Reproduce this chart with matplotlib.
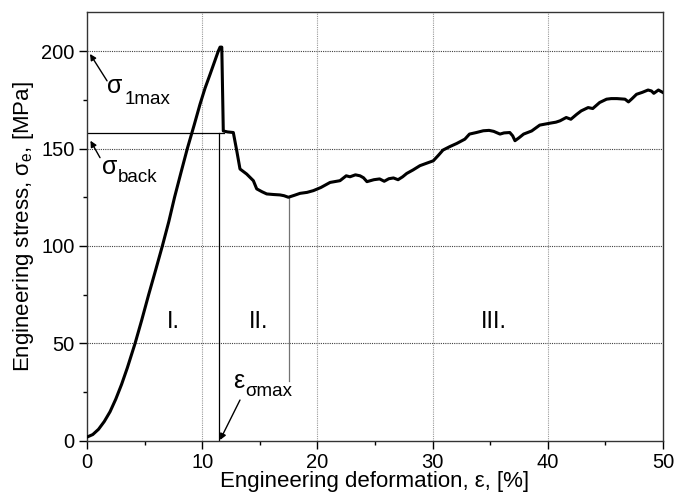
import matplotlib
matplotlib.use("Agg")
import matplotlib.pyplot as plt
from matplotlib.ticker import MultipleLocator

plt.rcParams['font.family'] = ['Liberation Sans', 'DejaVu Sans']
plt.rcParams['mathtext.fontset'] = 'custom'
plt.rcParams['mathtext.rm'] = 'Liberation Sans'
plt.rcParams['mathtext.it'] = 'Liberation Sans'

# Engineering deformation [%]
strain = [0.0, 0.5, 1.0, 1.5, 2.0, 2.5, 3.0, 3.5, 4.17, 4.75, 5.35, 5.95, 6.54, 7.1, 7.6,
          8.15, 8.71, 9.3, 9.81, 10.25, 10.68, 11.1, 11.4, 11.55, 11.7, 11.83, 12.2, 12.7, 13.0, 13.28,
          13.86, 14.44, 14.73, 15.2, 15.6, 16.2, 16.75, 17.1, 17.48, 18.0, 18.49, 19.1, 19.65,
          20.3, 21.1, 21.96, 22.5, 22.83, 23.3, 23.7, 24.0, 24.3, 24.9, 25.4, 25.8, 26.2, 26.6,
          27.0, 27.4, 27.75, 28.3, 28.9, 29.5, 30.06, 30.5, 30.9, 31.5, 32.1, 32.8, 33.2, 33.8,
          34.4, 34.9, 35.3, 35.85, 36.2, 36.7, 36.95, 37.15, 37.5, 37.9, 38.6, 39.3, 40.2, 40.7,
          41.06, 41.6, 42.0, 42.5, 42.9, 43.5, 43.9, 44.5, 45.1, 45.5, 46.0, 46.7, 47.0, 47.3,
          47.7, 48.2, 48.7, 49.0, 49.2, 49.6, 50.0]
# Engineering stress [MPa]
stress = [2.0, 3.3, 6.0, 10.0, 15.0, 21.5, 29.0, 37.5, 50.0, 62.0, 75.0, 87.5, 100.0, 112.5, 125.0,
          137.5, 150.0, 162.0, 172.7, 181.0, 188.0, 195.0, 200.0, 202.0, 202.0, 159.0, 158.5, 158.2, 148.8, 139.5,
          136.9, 133.5, 129.3, 127.8, 126.7, 126.4, 126.2, 125.8, 125.0, 126.0, 127.0, 127.5, 128.4,
          130.0, 132.6, 133.5, 136.0, 135.5, 136.5, 136.0, 135.0, 133.0, 134.0, 134.4, 133.2, 134.5, 134.9,
          134.0, 135.5, 137.2, 139.0, 141.2, 142.5, 143.7, 146.5, 149.2, 151.0, 152.6, 154.8, 157.4, 158.2,
          159.1, 159.3, 158.8, 157.4, 158.0, 158.2, 156.5, 154.0, 155.5, 157.4, 159.0, 162.0, 163.0, 163.5,
          164.2, 165.9, 165.0, 167.5, 169.3, 171.0, 170.5, 173.6, 175.3, 175.6, 175.6, 175.3, 173.9, 175.5,
          177.8, 178.8, 180.0, 179.5, 178.3, 180.0, 178.7]

eps_sigma_max = 11.5
sigma_back = 158.0
eps_min = 17.5
sigma_min = 125.0
region_labels = ['I.', 'II.', 'III.']
region_x = [7.5, 14.9, 35.3]

fig = plt.figure(figsize=(6.76, 5.03), dpi=100)
ax = fig.add_axes([0.1287, 0.1233, 0.8521, 0.8528])

ax.set_xlim(0, 50)
ax.set_ylim(0, 220)

# grid
for yv in [50, 100, 150, 200]:
    ax.axhline(yv, color='0.25', lw=0.8, ls=(0, (1, 1)), zorder=1)
for xv in [10, 20, 30, 40]:
    ax.axvline(xv, color='0.6', lw=0.8, ls=(0, (1, 1)), zorder=1)

# helper lines
ax.plot([eps_sigma_max, eps_sigma_max], [0, sigma_back], color='black', lw=0.9, zorder=2)
ax.plot([0, 11.9], [sigma_back, sigma_back], color='black', lw=0.9, zorder=2)
ax.plot([eps_min, eps_min], [31, sigma_min], color='0.45', lw=0.9, zorder=2)

ax.plot(strain, stress, color='black', lw=2.2, solid_joinstyle='round', zorder=3)

ax.xaxis.set_major_locator(MultipleLocator(10))
ax.xaxis.set_minor_locator(MultipleLocator(5))
ax.yaxis.set_major_locator(MultipleLocator(50))
ax.yaxis.set_minor_locator(MultipleLocator(25))
ax.tick_params(which='major', direction='out', length=6, width=1, labelsize=14.5, pad=3)
ax.tick_params(which='minor', direction='out', length=3, width=1)
for s in ax.spines.values():
    s.set_linewidth(1.0)
    s.set_color('0.2')

ax.set_xlabel('Engineering deformation, ε, [%]', fontsize=16, labelpad=-1)
ax.set_ylabel(r'Engineering stress, σ$_{\mathrm{e}}$, [MPa]', fontsize=16, labelpad=4)

# annotations
arrow = dict(arrowstyle='-|>', color='black', lw=1.0, mutation_scale=9, shrinkA=0, shrinkB=0)
ax.annotate('', xy=(0.26, 198.5), xytext=(1.74, 184.7), arrowprops=arrow)
ax.annotate('', xy=(0.3, 154.0), xytext=(1.13, 145.3), arrowprops=arrow)
ax.annotate('', xy=(11.55, 0.5), xytext=(13.28, 21.0), arrowprops=arrow)

ax.text(1.74, 182.0, 'σ', fontsize=18, ha='left', va='center')
ax.text(3.30, 175.0, '1max', fontsize=13.5, ha='left', va='center')
ax.text(1.30, 140.7, 'σ', fontsize=18, ha='left', va='center')
ax.text(2.69, 135.3, 'back', fontsize=13.5, ha='left', va='center')
ax.text(12.67, 30.7, 'ε', fontsize=18, ha='left', va='center')
ax.text(13.72, 25.6, 'σmax', fontsize=13.5, ha='left', va='center')

for lab, xv in zip(region_labels, region_x):
    ax.text(xv, 61, lab, fontsize=17, ha='center', va='center')

fig.savefig('out.png', dpi=100)
